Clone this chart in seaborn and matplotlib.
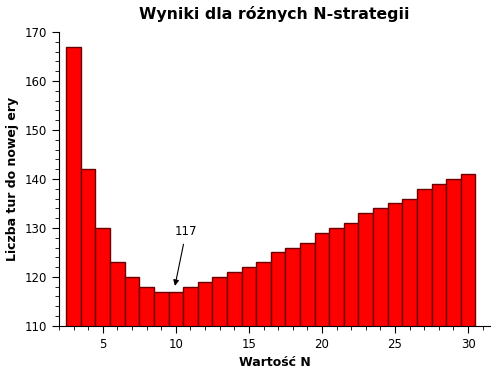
import numpy as np
import pandas as pd
import matplotlib
matplotlib.use("Agg")
import matplotlib.pyplot as plt
import seaborn as sns
from matplotlib.ticker import MultipleLocator

# values
n_values = list(range(3, 31))
turns = [167, 142, 130, 123, 120, 118, 117, 117, 118, 119, 120, 121, 122, 123,
         125, 126, 127, 129, 130, 131, 133, 134, 135, 136, 138, 139, 140, 141]
best_label = "117"

df = pd.DataFrame({"N": n_values, "tury": turns})

sns.set_style("ticks", {"text.color": "black", "axes.labelcolor": "black",
                        "xtick.color": "black", "ytick.color": "black",
                        "axes.edgecolor": "black"})
plt.rcParams['font.family'] = ['DejaVu Sans']

fig = plt.figure(figsize=(4.91, 3.72), dpi=100)
ax = fig.add_axes([0.120, 0.124, 0.878, 0.790])

sns.barplot(data=df, x="N", y="tury", native_scale=True, width=1.0,
            color="red", saturation=1, edgecolor="#6a0000", linewidth=1.0, ax=ax)

ax.set_xlim(2, 31.5)
ax.set_ylim(110, 170)
ax.xaxis.set_major_locator(MultipleLocator(5))
ax.xaxis.set_minor_locator(MultipleLocator(1))
ax.yaxis.set_major_locator(MultipleLocator(10))
ax.yaxis.set_minor_locator(MultipleLocator(2))
ax.tick_params(which="major", length=5, labelsize=8.5)
ax.tick_params(which="minor", length=3)

ax.set_title("Wyniki dla różnych N-strategii", fontsize=11.3, fontweight="bold",
             pad=9, color="black")
ax.set_xlabel("Wartość N", fontsize=9, fontweight="bold")
ax.set_ylabel("Liczba tur do nowej ery", fontsize=9, fontweight="bold")

# minimum marker
ax.annotate(best_label, xy=(9.9, 117.6), xytext=(10.7, 128.5), ha="center",
            fontsize=8.5, color="black",
            arrowprops=dict(arrowstyle="-|>", color="black", lw=0.8))

sns.despine(ax=ax)
fig.savefig("out.png", dpi=100)
